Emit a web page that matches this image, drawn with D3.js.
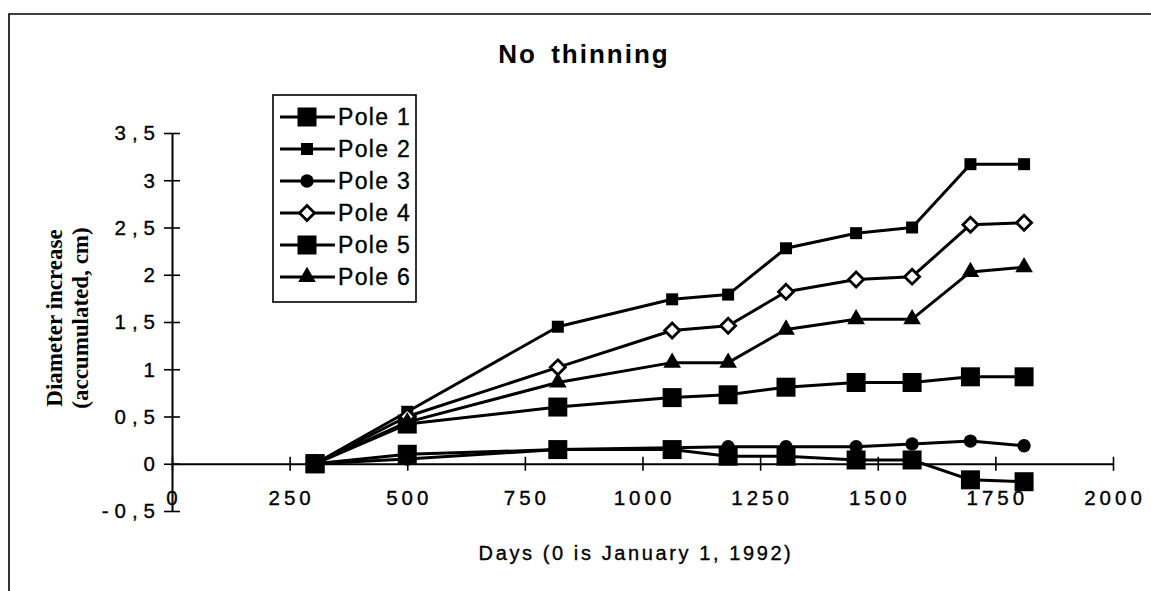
<!DOCTYPE html>
<html>
<head>
<meta charset="utf-8">
<script src="https://cdn.jsdelivr.net/npm/d3@7"></script>
<style>
  html, body { margin: 0; padding: 0; background: #fff; }
  svg { display: block; }
  .lbl { stroke: #000; stroke-width: 0.35px; fill: #000; }
</style>
</head>
<body>
<svg id="chart" width="1151" height="591"></svg>
<script>
// Measurement days (day 0 = January 1, 1992)
const days = [304, 500, 820, 1063, 1182, 1305, 1454, 1573, 1697, 1811];

// Accumulated diameter increase (cm) per pole
const pole1 = [0, 0.42, 0.60, 0.70, 0.73, 0.81, 0.86, 0.86, 0.92, 0.92];
const pole2 = [0, 0.55, 1.45, 1.74, 1.79, 2.28, 2.44, 2.50, 3.17, 3.17];
const pole3 = [0, 0.05, 0.15, 0.17, 0.18, 0.18, 0.18, 0.21, 0.24, 0.19];
const pole4 = [0, 0.50, 1.02, 1.41, 1.46, 1.82, 1.95, 1.98, 2.53, 2.55];
const pole5 = [0, 0.10, 0.15, 0.15, 0.08, 0.08, 0.04, 0.04, -0.17, -0.19];
const pole6 = [0, 0.44, 0.86, 1.07, 1.07, 1.42, 1.53, 1.53, 2.03, 2.08];

const seriesNames = ["Pole 1", "Pole 2", "Pole 3", "Pole 4", "Pole 5", "Pole 6"];
const seriesValues = [pole1, pole2, pole3, pole4, pole5, pole6];
const seriesMarkers = ["bigSquare", "smallSquare", "circle", "diamond", "bigSquare", "triangle"];

const xTicks = [0, 250, 500, 750, 1000, 1250, 1500, 1750, 2000];
const yTicks = [-0.5, 0, 0.5, 1, 1.5, 2, 2.5, 3, 3.5];
const yTickLabels = ["-0,5", "0", "0,5", "1", "1,5", "2", "2,5", "3", "3,5"];

const titleText = "No thinning";
const xTitle = "Days (0 is January 1, 1992)";
const yTitleLines = ["Diameter increase", "(accumulated, cm)"];

const svg = d3.select("#chart");
const SANS = "'Liberation Sans', Arial, Helvetica, sans-serif";
const SERIF = "'Liberation Serif', 'Times New Roman', Times, serif";

// Outer frame (top and left edges)
svg.append("path")
  .attr("d", "M9,591 L9,14 L1151,14")
  .attr("fill", "none").attr("stroke", "#000").attr("stroke-width", 1.6);

// Scales
const x = d3.scaleLinear().domain([0, 2000]).range([172, 1113]);
const y = d3.scaleLinear().domain([-0.5, 3.5]).range([511, 133]);

// Title
svg.append("text")
  .attr("x", 584).attr("y", 63)
  .attr("text-anchor", "middle")
  .style("font-family", SANS).style("font-weight", "bold")
  .style("font-size", "26px").style("letter-spacing", "2px").style("word-spacing", "5px")
  .text(titleText);

// X axis: crossing tick marks, line at y = 0
const xAxis = d3.axisBottom(x).tickValues(xTicks).tickSize(7).tickSizeOuter(0).tickFormat("");
const gx = svg.append("g").attr("transform", `translate(0,${y(0)})`).call(xAxis);
gx.select(".domain").attr("stroke", "#000").attr("stroke-width", 2);
gx.selectAll(".tick line").attr("stroke", "#000").attr("stroke-width", 1.6).attr("y1", -7);

// X tick labels sit below the plot, at the bottom of the value range
const xLS = 4;
svg.append("g").selectAll("text").data(xTicks).join("text")
  .attr("class", "lbl")
  .attr("x", d => x(d) + xLS / 2)
  .attr("y", 505)
  .attr("text-anchor", "middle")
  .style("font-family", SANS).style("font-size", "20.5px").style("letter-spacing", xLS + "px")
  .text(d => String(d));

// Y axis with crossing ticks
const yAxis = d3.axisLeft(y).tickValues(yTicks).tickSize(8).tickSizeOuter(0).tickFormat("");
const gy = svg.append("g").attr("transform", `translate(${x(0)},0)`).call(yAxis);
gy.select(".domain").attr("stroke", "#000").attr("stroke-width", 2);
gy.selectAll(".tick line").attr("stroke", "#000").attr("stroke-width", 1.6).attr("x1", 8);

const yLS = 6;
svg.append("g").selectAll("text").data(yTicks).join("text")
  .attr("class", "lbl")
  .attr("x", 155 + yLS)
  .attr("y", d => y(d))
  .attr("dy", "0.36em")
  .attr("text-anchor", "end")
  .style("font-family", SANS).style("font-size", "20.5px").style("letter-spacing", yLS + "px")
  .text((d, i) => yTickLabels[i]);

// Axis titles
svg.append("text")
  .attr("class", "lbl")
  .attr("x", 636).attr("y", 560)
  .attr("text-anchor", "middle")
  .style("font-family", SANS).style("font-size", "20px").style("letter-spacing", "2.6px")
  .text(xTitle);

const yTitle = svg.append("g").attr("transform", "translate(0,318) rotate(-90)");
yTitle.selectAll("text").data(yTitleLines).join("text")
  .attr("x", 0)
  .attr("y", (d, i) => i === 0 ? 62 : 88)
  .attr("text-anchor", "middle")
  .style("font-family", SERIF).style("font-weight", "bold").style("font-size", "23px")
  .text(d => d);

// Marker drawing
function markerPath(kind) {
  switch (kind) {
    case "bigSquare": return d3.symbol(d3.symbolSquare, 19 * 19)();
    case "smallSquare": return d3.symbol(d3.symbolSquare, 12 * 12)();
    case "circle": return d3.symbol(d3.symbolCircle, 140)();
    case "triangle": return d3.symbol(d3.symbolTriangle, 135)();
    case "diamond": { const r = 7.5; return `M0,${-r}L${r},0L0,${r}L${-r},0Z`; }
  }
}
function drawMarker(g, kind, cx, cy) {
  const p = g.append("path")
    .attr("transform", `translate(${cx},${cy})`)
    .attr("d", markerPath(kind));
  if (kind === "diamond") {
    p.attr("fill", "#fff").attr("stroke", "#000").attr("stroke-width", 2.8);
  } else {
    p.attr("fill", "#000");
  }
}

// Series lines and markers
const line = d3.line().x(d => x(d[0])).y(d => y(d[1]));
seriesValues.forEach((vals, si) => {
  const pts = days.map((d, i) => [d, vals[i]]);
  const g = svg.append("g").attr("class", "series");
  g.append("path")
    .datum(pts)
    .attr("d", line)
    .attr("fill", "none").attr("stroke", "#000").attr("stroke-width", 3)
    .attr("stroke-linejoin", "round");
  pts.forEach(p => drawMarker(g, seriesMarkers[si], x(p[0]), y(p[1])));
});

// Legend
const legend = svg.append("g");
legend.append("rect")
  .attr("x", 273).attr("y", 95).attr("width", 143).attr("height", 207)
  .attr("fill", "#fff").attr("stroke", "#000").attr("stroke-width", 1.6);
seriesNames.forEach((name, i) => {
  const cy = 117 + i * 32;
  const row = legend.append("g");
  row.append("line")
    .attr("x1", 280).attr("x2", 335).attr("y1", cy).attr("y2", cy)
    .attr("stroke", "#000").attr("stroke-width", 3);
  drawMarker(row, seriesMarkers[i], 307, cy);
  row.append("text")
    .attr("class", "lbl")
    .attr("x", 338).attr("y", cy).attr("dy", "0.36em")
    .style("font-family", SANS).style("font-size", "23px").style("letter-spacing", "1.3px")
    .text(name);
});
</script>
</body>
</html>
